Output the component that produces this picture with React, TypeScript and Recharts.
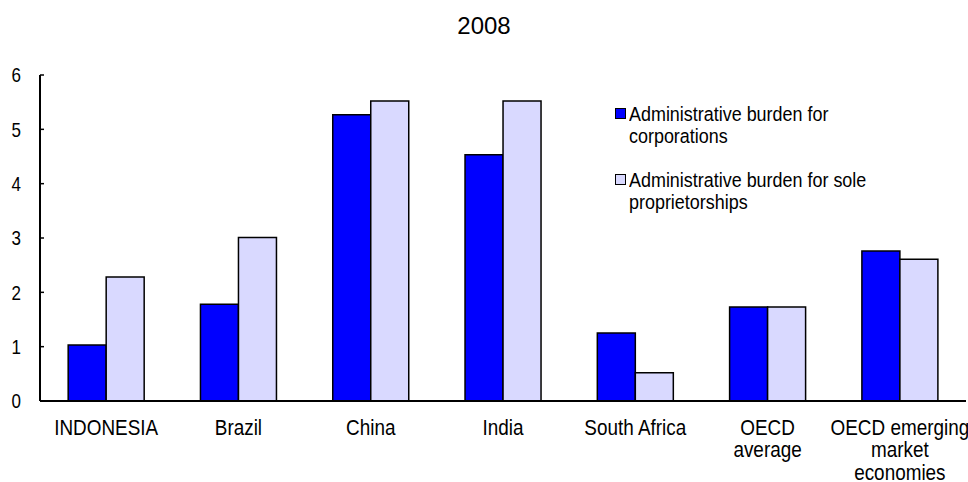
import { BarChart, Bar, XAxis, YAxis } from "recharts";

const categories = [
  "INDONESIA",
  "Brazil",
  "China",
  "India",
  "South Africa",
  "OECD average",
  "OECD emerging market economies",
];
const corporations = [1.03, 1.78, 5.27, 4.53, 1.25, 1.73, 2.76];
const soleProprietorships = [2.28, 3.01, 5.52, 5.52, 0.52, 1.73, 2.61];
const yTicks = [0, 1, 2, 3, 4, 5, 6];

// multi-line tick labels, as in the original
const tickLines: Record<string, string[]> = {
  "OECD average": ["OECD", "average"],
  "OECD emerging market economies": ["OECD emerging", "market", "economies"],
};

// no Arial Narrow here, so squeeze Liberation Sans instead
const FONT = "'Liberation Sans', Arial, sans-serif";
const DARK = "#0000FF";
const LIGHT = "#D9D9FF";

const data = categories.map((name, i) => ({
  name,
  corp: corporations[i],
  sole: soleProprietorships[i],
}));

function CategoryTick(props: any) {
  const { x, y, payload } = props;
  const lines = tickLines[payload.value] ?? [payload.value];
  return (
    <g transform={`translate(${x},${y + 34}) scale(0.86,1)`}>
      <text x={0} y={0} textAnchor="middle" fontFamily={FONT} fontSize={22} fill="#000">
        {lines.map((l, i) => (
          <tspan key={i} x={0} dy={i === 0 ? 0 : 22.5}>
            {l}
          </tspan>
        ))}
      </text>
    </g>
  );
}

function ValueTick(props: any) {
  const { x, y, payload } = props;
  return (
    <g transform={`translate(${x},${y}) scale(0.85,1)`}>
      <text x={0} y={0} dy="0.36em" textAnchor="end" fontFamily={FONT} fontSize={20} fill="#000">
        {payload.value}
      </text>
    </g>
  );
}

const legendItems = [
  { color: DARK, lines: ["Administrative burden for", "corporations"] },
  { color: LIGHT, lines: ["Administrative burden for sole", "proprietorships"] },
];

export default function App() {
  return (
    <div style={{ position: "absolute", left: 0, top: 0, width: 968, height: 482, background: "#fff" }}>
      <div
        style={{
          position: "absolute",
          left: 0,
          width: 968,
          top: 12,
          textAlign: "center",
          fontFamily: FONT,
          fontSize: 24,
          lineHeight: "28px",
          color: "#000",
        }}
      >
        2008
      </div>
      <BarChart
        width={968}
        height={482}
        data={data}
        margin={{ top: 75, right: 2, left: 0, bottom: 0 }}
        barCategoryGap="21.3%"
        barGap={0}
      >
        <XAxis
          dataKey="name"
          height={81}
          interval={0}
          tickLine={false}
          tickSize={0}
          tickMargin={0}
          axisLine={{ stroke: "#000", strokeWidth: 2 }}
          tick={<CategoryTick />}
        />
        <XAxis
          xAxisId="top"
          dataKey="name"
          orientation="top"
          height={0}
          tick={false}
          tickLine={false}
          axisLine={{ stroke: "#222", strokeWidth: 2 }}
        />
        <YAxis
          width={40}
          domain={[0, 6]}
          ticks={yTicks}
          interval={0}
          tickSize={-4}
          tickMargin={23}
          tickLine={{ stroke: "#000", strokeWidth: 1.5 }}
          axisLine={{ stroke: "#000", strokeWidth: 2 }}
          tick={<ValueTick />}
        />
        <YAxis
          yAxisId="right"
          orientation="right"
          width={0}
          domain={[0, 6]}
          tick={false}
          tickLine={false}
          axisLine={{ stroke: "#222", strokeWidth: 2 }}
        />
        <Bar dataKey="corp" fill={DARK} stroke="#000" strokeWidth={1.5} isAnimationActive={false} />
        <Bar dataKey="sole" fill={LIGHT} stroke="#000" strokeWidth={1.5} isAnimationActive={false} />
      </BarChart>
      <div style={{ position: "absolute", left: 615, top: 103, fontFamily: FONT, fontSize: 20.5, lineHeight: "22px", color: "#000" }}>
        {legendItems.map((it, i) => (
          <div key={i} style={{ position: "relative", paddingLeft: 14, marginBottom: 22, whiteSpace: "nowrap" }}>
            <span
              style={{
                position: "absolute",
                left: 0,
                top: 5,
                width: 9,
                height: 9,
                background: it.color,
                border: "1.5px solid #000",
              }}
            />
            <div style={{ transform: "scaleX(0.875)", transformOrigin: "left top" }}>
              {it.lines.map((l, j) => (
                <div key={j}>{l}</div>
              ))}
            </div>
          </div>
        ))}
      </div>
    </div>
  );
}
